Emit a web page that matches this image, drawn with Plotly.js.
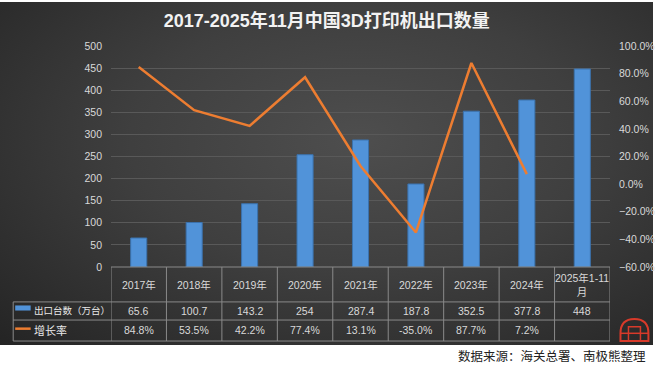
<!DOCTYPE html>
<html><head><meta charset="utf-8">
<script src="https://cdn.plot.ly/plotly-3.0.1.min.js"></script>
<style>
html,body{margin:0;padding:0;background:#fff;width:660px;height:368px;overflow:hidden;}
#bg{position:absolute;left:0;top:2px;width:653px;height:343px;background:radial-gradient(ellipse at 55% 40%, #4e4e4e 0%, #3f3f3f 45%, #242424 100%);}
#chart{position:absolute;left:0;top:0;width:660px;height:368px;}
</style></head>
<body><div id="bg"></div><div id="chart"></div>
<script>
const categories = ['2017年','2018年','2019年','2020年','2021年','2022年','2023年','2024年','2025年1-11<br>月'];
const exports = [65.6, 100.7, 143.2, 254, 287.4, 187.8, 352.5, 377.8, 448];
const exportLabels = ['65.6','100.7','143.2','254','287.4','187.8','352.5','377.8','448'];
const growth = [0.848, 0.535, 0.422, 0.774, 0.131, -0.350, 0.877, 0.072];
const growthLabels = ['84.8%','53.5%','42.2%','77.4%','13.1%','-35.0%','87.7%','7.2%',''];
const seriesNames = ['出口台数（万台）','增长率'];
const titleText = '2017-2025年11月中国3D打印机出口数量';
const sourceText = '数据来源：海关总署、南极熊整理';

const idx = categories.map((c,i)=>i);
const FONT = 'Liberation Sans, Noto Sans CJK SC, sans-serif';
const txtColor = '#d9d9d9';
const lineColor = '#8a8a8a';

const traces = [
  {type:'bar', x: idx, y: exports, name: seriesNames[0], width: 0.29,
   marker:{color:'#5193d9', line:{color:'#3b72ad', width:1}}, hoverinfo:'skip'},
  {type:'scatter', mode:'lines', x: idx.slice(0, growth.length), y: growth, yaxis:'y2', name: seriesNames[1],
   line:{color:'#ed7d31', width:2.5}, hoverinfo:'skip'}
];

const yHead = -0.081, yRow1 = -0.199, yRow2 = -0.287;
const annotations = [];
categories.forEach((c,i)=>{
  annotations.push({x:i, y:yHead, xref:'x', yref:'paper', text:c, showarrow:false,
    font:{family:FONT, size:10.5, color:txtColor}, yanchor:'middle'});
  annotations.push({x:i, y:yRow1, xref:'x', yref:'paper', text:exportLabels[i], showarrow:false,
    font:{family:FONT, size:10.5, color:txtColor}, yanchor:'middle'});
  annotations.push({x:i, y:yRow2, xref:'x', yref:'paper', text:growthLabels[i], showarrow:false,
    font:{family:FONT, size:10.5, color:txtColor}, yanchor:'middle'});
});
annotations.push({x:-0.158, y:yRow1, xref:'paper', yref:'paper', text:seriesNames[0], showarrow:false,
  xanchor:'left', yanchor:'middle', font:{family:FONT, size:9.5, color:'#e8e8e8'}});
annotations.push({x:-0.158, y:yRow2, xref:'paper', yref:'paper', text:seriesNames[1], showarrow:false,
  xanchor:'left', yanchor:'middle', font:{family:FONT, size:11, color:'#e8e8e8'}});
annotations.push({x:(648-111)/499, y:(267-355)/221, xref:'paper', yref:'paper',
  text:sourceText, showarrow:false, xanchor:'right', yanchor:'middle',
  font:{family:'Noto Sans CJK SC, sans-serif', size:12.5, color:'#222'}});

const shapes = [];
const pTop = 0, pHead = -0.158, pR1 = -0.240, pBot = -0.335, pLeft = -0.196;
for (let i=0;i<=categories.length;i++){
  shapes.push({type:'line', xref:'x', yref:'paper', x0:i-0.5, x1:i-0.5, y0:pTop, y1:pBot,
    line:{color:lineColor, width:1}});
}
shapes.push({type:'line', xref:'paper', yref:'paper', x0:0, x1:1, y0:pTop, y1:pTop, line:{color:lineColor, width:1}});
[pHead, pR1, pBot].forEach(yy=>shapes.push({type:'line', xref:'paper', yref:'paper', x0:pLeft, x1:1, y0:yy, y1:yy, line:{color:lineColor, width:1}}));
shapes.push({type:'line', xref:'paper', yref:'paper', x0:pLeft, x1:pLeft, y0:pHead, y1:pBot, line:{color:lineColor, width:1}});
// legend swatches
shapes.push({type:'rect', xref:'paper', yref:'paper', x0:-0.192, x1:-0.161, y0:yRow1+0.002, y1:yRow1+0.025,
  fillcolor:'#5193d9', line:{width:0}});
shapes.push({type:'line', xref:'paper', yref:'paper', x0:-0.192, x1:-0.161, y0:yRow2+0.008, y1:yRow2+0.008,
  line:{color:'#ed7d31', width:2.5}});
// logo (dome)
shapes.push({type:'path', xref:'paper', yref:'paper',
  path:'M 1.021 -0.335 L 1.021 -0.30 Q 1.021 -0.235 1.049 -0.235 Q 1.077 -0.235 1.077 -0.30 L 1.077 -0.335 Z',
  fillcolor:'rgba(0,0,0,0)', line:{color:'#d83a2a', width:2}});
shapes.push({type:'path', xref:'paper', yref:'paper',
  path:'M 1.037 -0.335 L 1.037 -0.27 L 1.061 -0.27 L 1.061 -0.335',
  fillcolor:'rgba(0,0,0,0)', line:{color:'#d83a2a', width:1.5}});
shapes.push({type:'line', xref:'paper', yref:'paper', x0:1.021, x1:1.077, y0:-0.30, y1:-0.30,
  line:{color:'#d83a2a', width:1.5}});

const layout = {
  width:660, height:368,
  paper_bgcolor:'rgba(0,0,0,0)', plot_bgcolor:'rgba(0,0,0,0)',
  margin:{l:111, r:50, t:46, b:101},
  showlegend:false,
  title:{text:'<b>'+titleText+'</b>', x:0.495, xanchor:'center', y:0.945, yanchor:'middle',
    font:{family:'Liberation Sans, Noto Sans CJK SC, sans-serif', size:18, color:'#f2f2f2'}},
  xaxis:{range:[-0.5, categories.length-0.5], showticklabels:false, showgrid:false, zeroline:false, ticks:'', fixedrange:true},
  yaxis:{range:[0,500], dtick:50, gridcolor:'#595959', gridwidth:1, zeroline:false,
    tickfont:{family:FONT, size:10.5, color:txtColor}, ticklabelstandoff:8},
  yaxis2:{range:[-0.6,1.0], dtick:0.2, tickformat:'.1%', overlaying:'y', side:'right', showgrid:false, zeroline:false,
    tickfont:{family:FONT, size:10.5, color:txtColor}, ticklabelstandoff:8},
  annotations, shapes
};
Plotly.newPlot('chart', traces, layout, {staticPlot:true, displayModeBar:false});
</script></body></html>
